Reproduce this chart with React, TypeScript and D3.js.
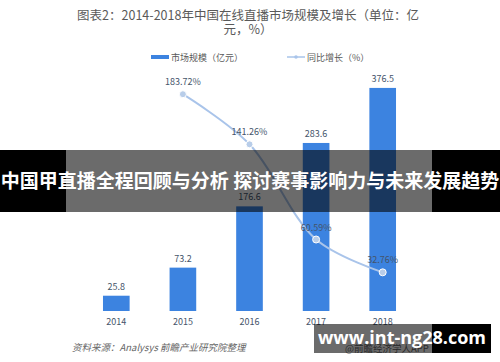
import React from "react";
import * as d3 from "d3";

const years = ["2014", "2015", "2016", "2017", "2018"];
const marketSize = [25.8, 73.2, 176.6, 283.6, 376.5];
const growthYears = ["2015", "2016", "2017", "2018"];
const growthRate = [183.72, 141.26, 60.59, 32.76];

const W = 500;
const H = 362;
const font = "'Noto Sans CJK SC', 'Noto Sans', sans-serif";

const App = () => {
  const x = d3.scaleBand().domain(years).range([83, 416]).paddingInner(0.6).paddingOuter(0.3);
  const yBar = d3.scaleLinear().domain([0, 400]).range([311, 74]);
  const yLine = d3.scaleLinear().domain([0, 200]).range([311, 75]);
  const cx = (d: string) => (x(d) as number) + x.bandwidth() / 2;

  const pts: [number, number][] = growthYears.map((d, i) => [cx(d), yLine(growthRate[i])]);
  const line = d3.line().curve(d3.curveCatmullRom.alpha(0.5))(pts) as string;

  return (
    <svg width={W} height={H} style={{ position: "absolute", left: 0, top: 0, background: "#fff" }}>
      <g fontFamily={font} fill="#595959" fontSize={12.5} textAnchor="middle">
        <text x={248} y={19.5}>图表2：2014-2018年中国在线直播市场规模及增长（单位：亿</text>
        <text x={248} y={33.5}>元，%）</text>
      </g>

      {/* legend */}
      <g fontFamily={font} fontSize={9} fill="#595959">
        <rect x={151} y={55} width={18} height={4} fill="#3c83e0" />
        <text x={171} y={60.5}>市场规模（亿元）</text>
        <line x1={287} x2={305} y1={57} y2={57} stroke="#a9c4ea" strokeWidth={1.5} />
        <circle cx={296} cy={57} r={1.8} fill="#a9c4ea" />
        <text x={307} y={60.5}>同比增长（%）</text>
      </g>

      {/* bars */}
      {years.map((d, i) => (
        <g key={d}>
          <rect
            x={x(d)}
            y={yBar(marketSize[i])}
            width={x.bandwidth()}
            height={yBar(0) - yBar(marketSize[i])}
            fill="#3c83e0"
          />
          <text
            x={cx(d)}
            y={yBar(marketSize[i]) - 6}
            textAnchor="middle"
            fontFamily={font}
            fontSize={9}
            fill="#44546a"
          >
            {marketSize[i]}
          </text>
          <text x={cx(d)} y={325} textAnchor="middle" fontFamily={font} fontSize={9} fill="#44546a">
            {d}
          </text>
        </g>
      ))}

      {/* growth line */}
      <path d={line} fill="none" stroke="#a9c4ea" strokeWidth={2} />
      {pts.map((p, i) => (
        <g key={growthYears[i]}>
          <circle cx={p[0]} cy={p[1]} r={3.5} fill="#b8cde9" stroke="#fff" strokeWidth={1} />
          <text
            x={p[0]}
            y={p[1] - 9}
            textAnchor="middle"
            fontFamily={font}
            fontSize={9}
            fill="#44546a"
          >
            {growthRate[i].toFixed(2)}%
          </text>
        </g>
      ))}

      {/* source */}
      <text x={72} y={351} fontFamily={font} fontSize={9.5} fontStyle="italic" fill="#666">
        资料来源：Analysys 前瞻产业研究院整理
      </text>
      <text x={345} y={352} fontFamily={font} fontSize={9.5} fill="#666">
        @前瞻经济学人APP
      </text>

      {/* overlay band */}
      <rect x={0} y={150} width={66} height={62} fill="#000" />
      <rect x={432} y={150} width={68} height={62} fill="#000" />
      <rect x={66} y={150} width={366} height={62} fill="#000" opacity={0.58} />
      <text
        x={250}
        y={188}
        textAnchor="middle"
        fontFamily={font}
        fontWeight="bold"
        fontSize={19}
        fill="#fff"
      >
        中国甲直播全程回顾与分析 探讨赛事影响力与未来发展趋势
      </text>

      {/* watermark box */}
      <rect x={314} y={324} width={118} height={29} fill="#000" opacity={0.58} />
      <rect x={432} y={324} width={59} height={29} fill="#000" />
      <text
        x={402}
        y={344}
        textAnchor="middle"
        fontFamily="'Open Sans', sans-serif"
        fontWeight="bold"
        fontSize={18}
        fill="#fff"
      >
        www.int-ng28.com
      </text>
    </svg>
  );
};

export default App;
